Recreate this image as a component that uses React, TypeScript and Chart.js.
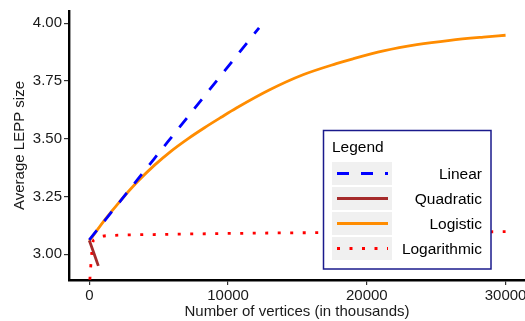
import React, { useEffect, useRef } from "react";
import { Chart, registerables } from "chart.js";

Chart.register(...registerables);

// ---- data ----
const xTickValues = [0, 10000, 20000, 30000];
const yTickValues = [3.0, 3.25, 3.5, 3.75, 4.0];

const linearX = [0, 12235];
const linearY = [3.063, 3.98];

const quadraticX = [0, 300, 650];
const quadraticY = [3.06, 3.01, 2.95];

const logisticX = [0, 1100, 2300, 3500, 4700, 5900, 7100, 8300, 9500, 10600, 13000, 15400, 17800, 19000, 21200, 23600, 26000, 28400, 30000];
const logisticY = [3.058, 3.148, 3.236, 3.316, 3.386, 3.447, 3.5, 3.548, 3.593, 3.633, 3.712, 3.777, 3.825, 3.846, 3.88, 3.907, 3.926, 3.94, 3.948];

const logarithmicX = [40, 100, 170, 220, 400, 840, 1800, 5000, 12400, 20000, 30000];
const logarithmicY = [2.89, 2.945, 3.0, 3.045, 3.065, 3.077, 3.082, 3.086, 3.092, 3.095, 3.098];

const seriesNames = ["Linear", "Quadratic", "Logistic", "Logarithmic"];
const seriesColors = ["#0000ff", "#a52a2a", "#ff8c00", "#ff0000"];
const seriesDash: number[][] = [[12, 12], [], [], [3, 9.5]];

const FONT = "'Liberation Sans', Arial, Helvetica, sans-serif";

const toPoints = (xs: number[], ys: number[]) => xs.map((x, i) => ({ x, y: ys[i] }));

const legendPlugin = {
  id: "boxLegend",
  afterDraw(chart: any) {
    const ctx = chart.ctx as CanvasRenderingContext2D;
    ctx.save();
    const bx = 323.5, by = 130.5, bw = 167.5, bh = 138.5;
    ctx.fillStyle = "#ffffff";
    ctx.fillRect(bx, by, bw, bh);
    ctx.strokeStyle = "#1a1a8c";
    ctx.lineWidth = 1.5;
    ctx.strokeRect(bx, by, bw, bh);

    ctx.fillStyle = "#000";
    ctx.font = `15.5px ${FONT}`;
    ctx.textAlign = "left";
    ctx.textBaseline = "alphabetic";
    ctx.fillText("Legend", 332, 152);

    const rowTops = [162, 187, 212, 237];
    seriesNames.forEach((name, i) => {
      const top = rowTops[i];
      const cy = top + 11.5;
      ctx.fillStyle = "#f0f0f0";
      ctx.fillRect(332, top, 60, 23);
      ctx.beginPath();
      ctx.setLineDash(seriesDash[i]);
      ctx.lineCap = "butt";
      ctx.strokeStyle = seriesColors[i];
      ctx.lineWidth = 3;
      ctx.moveTo(337, cy);
      ctx.lineTo(388, cy);
      ctx.stroke();
      ctx.setLineDash([]);
      ctx.fillStyle = "#000";
      ctx.textAlign = "right";
      ctx.textBaseline = "middle";
      ctx.fillText(name, 482, cy + 1);
    });
    ctx.restore();
  },
};

export default function App() {
  const ref = useRef<HTMLCanvasElement | null>(null);

  useEffect(() => {
    if (!ref.current) return;
    const xsList = [linearX, quadraticX, logisticX, logarithmicX];
    const ysList = [linearY, quadraticY, logisticY, logarithmicY];
    const chart = new Chart(ref.current, {
      type: "line",
      data: {
        datasets: seriesNames.map((name, i) => ({
          label: name,
          data: toPoints(xsList[i], ysList[i]),
          borderColor: seriesColors[i],
          backgroundColor: seriesColors[i],
          borderWidth: 2.8,
          borderDash: seriesDash[i],
          borderCapStyle: "butt",
          pointRadius: 0,
          fill: false,
          cubicInterpolationMode: "monotone",
        })) as any,
      },
      options: {
        animation: false,
        responsive: false,
        maintainAspectRatio: false,
        layout: { padding: { top: 11, right: 0, left: 0, bottom: 0 } },
        plugins: { legend: { display: false }, tooltip: { enabled: false } },
        scales: {
          x: {
            type: "linear",
            min: -1464,
            max: 31400,
            afterBuildTicks: (s: any) => {
              s.ticks = xTickValues.map((v) => ({ value: v }));
            },
            afterFit: (s: any) => {
              s.height = 41;
              s.paddingLeft = 0;
              s.paddingRight = 0;
            },
            ticks: {
              color: "#1a1a1a",
              font: { family: FONT, size: 15 },
              padding: 2,
              maxRotation: 0,
              autoSkip: false,
              callback: (v: any) => String(v),
            },
            grid: { display: true, drawOnChartArea: false, drawTicks: true, tickLength: 5, color: "#333", lineWidth: 1.2 },
            border: { display: true, color: "#000", width: 2.4 },
            title: {
              display: true,
              text: "Number of vertices (in thousands)",
              color: "#1a1a1a",
              font: { family: FONT, size: 15 },
              padding: { top: 0, bottom: 0 },
            },
          },
          y: {
            type: "linear",
            min: 2.889,
            max: 4.053,
            afterBuildTicks: (s: any) => {
              s.ticks = yTickValues.map((v) => ({ value: v }));
            },
            afterFit: (s: any) => {
              s.width = 69;
              s.paddingTop = 0;
              s.paddingBottom = 0;
            },
            ticks: {
              color: "#1a1a1a",
              font: { family: FONT, size: 15 },
              padding: 2,
              callback: (v: any) => Number(v).toFixed(2),
            },
            grid: { display: true, drawOnChartArea: false, drawTicks: true, tickLength: 5, color: "#333", lineWidth: 1.2 },
            border: { display: true, color: "#000", width: 2.4 },
            title: {
              display: true,
              text: "Average LEPP size",
              color: "#1a1a1a",
              font: { family: FONT, size: 15 },
              padding: { top: 10.5, bottom: 0 },
            },
          },
        },
      },
      plugins: [legendPlugin],
    });
    return () => chart.destroy();
  }, []);

  return (
    <div style={{ position: "fixed", left: 0, top: 0, width: 525, height: 321, background: "#fff" }}>
      <canvas ref={ref} width={525} height={321} style={{ width: 525, height: 321, display: "block" }} />
    </div>
  );
}
